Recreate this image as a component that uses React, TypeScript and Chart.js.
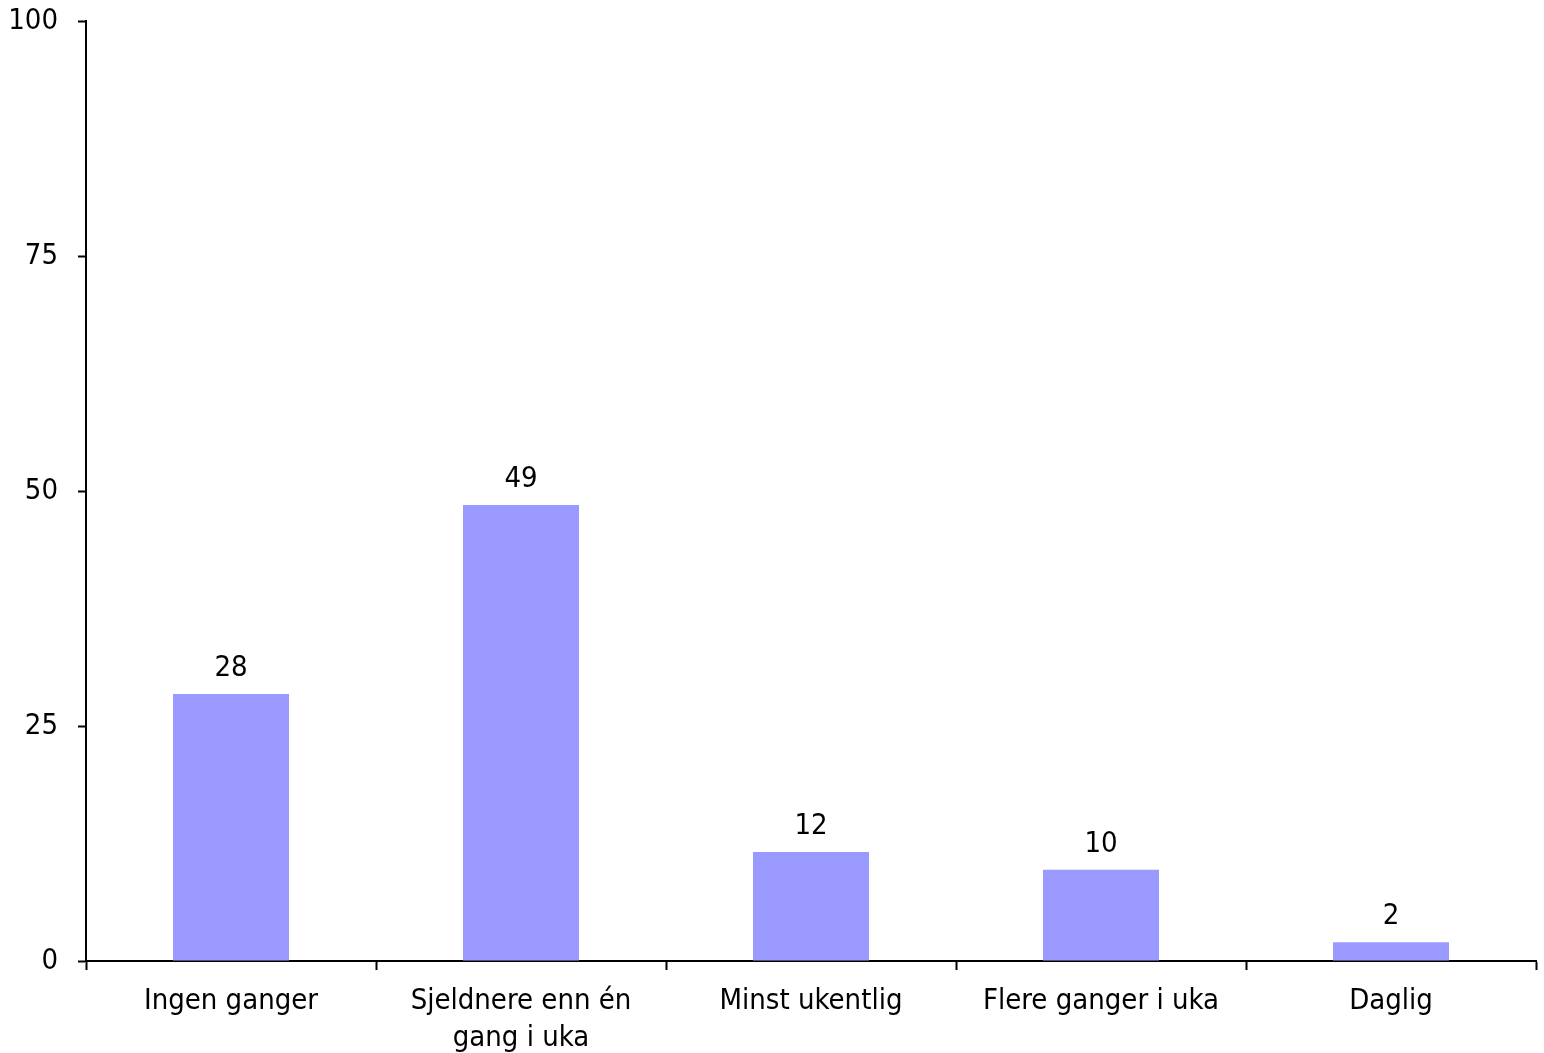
import React, { useEffect, useRef } from "react";
import { Chart, registerables } from "chart.js";

Chart.register(...registerables);

const categories: (string | string[])[] = [
  "Ingen ganger",
  ["Sjeldnere enn én", "gang i uka"],
  "Minst ukentlig",
  "Flere ganger i uka",
  "Daglig",
];
const values = [28.4, 48.5, 11.6, 9.7, 2.0];
const valueLabels = ["28", "49", "12", "10", "2"];
const yTicks = [0, 25, 50, 75, 100];

const FONT = "'DejaVu Sans Condensed', 'DejaVu Sans', sans-serif";
const FONT_SIZE = 29;

const valueLabelPlugin = {
  id: "valueLabels",
  afterDatasetsDraw(chart: any) {
    const ctx = chart.ctx;
    const meta = chart.getDatasetMeta(0);
    ctx.save();
    ctx.fillStyle = "#000";
    ctx.font = `${FONT_SIZE}px ${FONT}`;
    ctx.textAlign = "center";
    ctx.textBaseline = "alphabetic";
    meta.data.forEach((bar: any, i: number) => {
      ctx.fillText(valueLabels[i], bar.x, bar.y - 18);
    });
    ctx.restore();
  },
};

export default function App() {
  const ref = useRef<HTMLCanvasElement>(null);
  useEffect(() => {
    if (!ref.current) return;
    const chart = new Chart(ref.current, {
      type: "bar",
      data: {
        labels: categories,
        datasets: [
          {
            data: values,
            backgroundColor: "#9999FF",
            borderWidth: 0,
            categoryPercentage: 1,
            barPercentage: 0.4,
          },
        ],
      },
      options: {
        animation: false,
        responsive: false,
        maintainAspectRatio: false,
        layout: { padding: { top: 21, right: 8, bottom: 0, left: 0 } },
        plugins: {
          legend: { display: false },
          tooltip: { enabled: false },
        },
        scales: {
          x: {
            grid: {
              display: true,
              drawOnChartArea: false,
              drawTicks: true,
              tickLength: 9,
              tickWidth: 2,
              color: "#000",
              offset: true,
            },
            border: { display: true, color: "#000", width: 2 },
            ticks: {
              color: "#000",
              font: { family: FONT, size: FONT_SIZE, lineHeight: 1.27 },
              padding: 13,
              maxRotation: 0,
              autoSkip: false,
            },
            afterFit(scale: any) {
              scale.height = 92;
            },
          },
          y: {
            min: 0,
            max: 100,
            afterBuildTicks(scale: any) {
              scale.ticks = yTicks.map((v) => ({ value: v }));
            },
            grid: {
              display: true,
              drawOnChartArea: false,
              drawTicks: true,
              tickLength: 8,
              tickWidth: 2,
              color: "#000",
            },
            border: { display: true, color: "#000", width: 2 },
            ticks: {
              color: "#000",
              font: { family: FONT, size: FONT_SIZE },
              padding: 20,
            },
            afterFit(scale: any) {
              scale.width = 86;
              scale.paddingTop = 0;
              scale.paddingBottom = 0;
            },
          },
        },
      },
      plugins: [valueLabelPlugin],
    });
    return () => chart.destroy();
  }, []);
  return (
    <div style={{ position: "fixed", left: 0, top: 0, width: 1544, height: 1053, background: "#fff" }}>
      <canvas ref={ref} width={1544} height={1053} style={{ width: 1544, height: 1053, display: "block" }} />
    </div>
  );
}
